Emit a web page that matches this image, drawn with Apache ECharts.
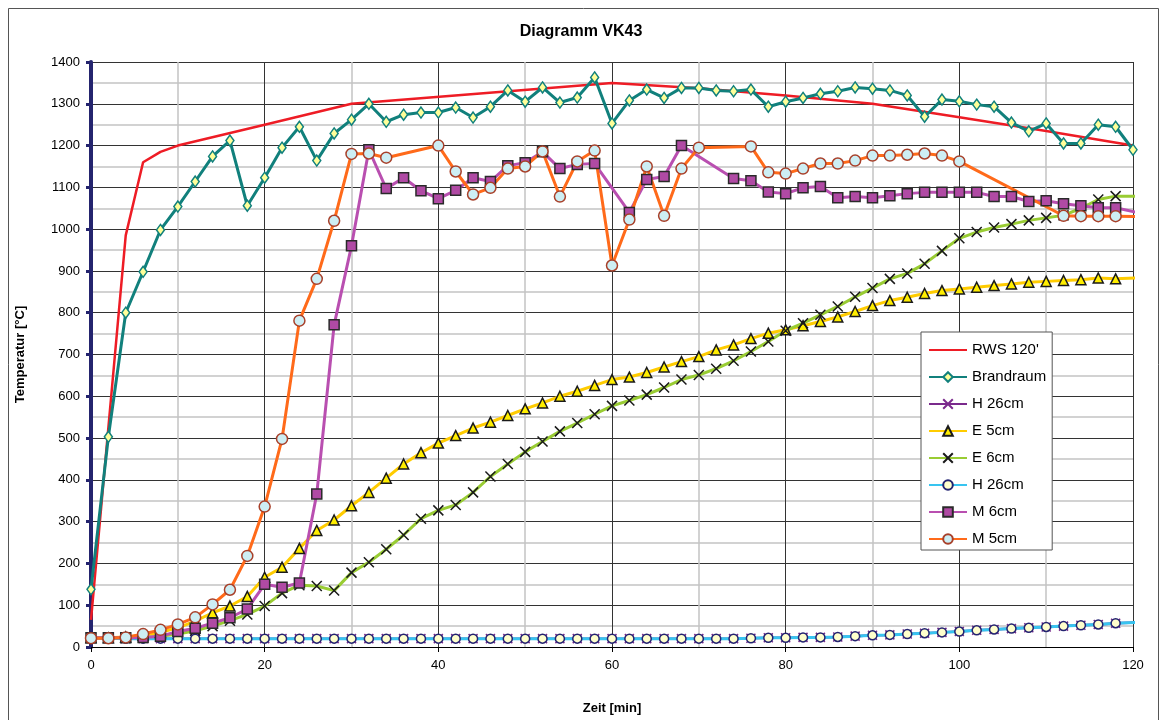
<!DOCTYPE html>
<html>
<head>
<meta charset="utf-8">
<title>Diagramm VK43</title>
<script src="https://cdn.jsdelivr.net/npm/echarts@6/dist/echarts.min.js"></script>
<style>
  html, body { margin: 0; padding: 0; background: #fff; }
  #chart { width: 1162px; height: 720px; }
</style>
</head>
<body>
<div id="chart"></div>
<script>
// Zeit [min] / Temperatur [°C]

var rwsTime = [0, 4, 6, 8, 10, 20, 30, 60, 70, 80, 90, 100, 110, 120];
var rwsTemp = [65, 985, 1160, 1185, 1200, 1250, 1300, 1350, 1337, 1320, 1300, 1268, 1235, 1200];

var brandTime = [0, 2, 4, 6, 8, 10, 12, 14, 16, 18, 20, 22, 24, 26, 28, 30, 32, 34, 36, 38, 40,
	42, 44, 46, 48, 50, 52, 54, 56, 58, 60, 62, 64, 66, 68, 70, 72, 74, 76, 78, 80,
	82, 84, 86, 88, 90, 92, 94, 96, 98, 100, 102, 104, 106, 108, 110, 112, 114, 116, 118, 120];
var brandTemp = [138, 503, 800, 898, 998, 1054, 1114, 1174, 1212, 1056, 1123, 1195, 1245, 1164, 1229, 1262, 1300, 1257, 1274, 1279, 1279,
	1291, 1267, 1293, 1332, 1305, 1339, 1303, 1315, 1363, 1253, 1308, 1334, 1314, 1338, 1338, 1332, 1330, 1334, 1293, 1305,
	1314, 1324, 1330, 1339, 1336, 1332, 1320, 1269, 1310, 1306, 1298, 1293, 1255, 1234, 1253, 1205, 1205, 1250, 1245, 1190];

var hTime = [0, 2, 4, 6, 8, 10, 12, 14, 16, 18, 20, 22, 24, 26, 28, 30, 32, 34, 36, 38, 40,
	42, 44, 46, 48, 50, 52, 54, 56, 58, 60, 62, 64, 66, 68, 70, 72, 74, 76, 78, 80,
	82, 84, 86, 88, 90, 92, 94, 96, 98, 100, 102, 104, 106, 108, 110, 112, 114, 116, 118, 122];
var hTemp = [21, 21, 20, 20, 20, 20, 20, 20, 20, 20, 20, 20, 20, 20, 20, 20, 20, 20, 20, 20, 20,
	20, 20, 20, 20, 20, 20, 20, 20, 20, 20, 20, 20, 20, 20, 20, 20, 20, 21, 22, 22,
	23, 23, 24, 26, 28, 29, 31, 33, 35, 37, 40, 42, 44, 46, 48, 50, 52, 54, 57, 60];

var e5Time = hTime;
var e5Temp = [22, 22, 24, 28, 35, 46, 62, 82, 98, 121, 167, 191, 236, 279, 304, 338, 370, 404, 438, 465, 488,
	506, 524, 538, 554, 570, 584, 600, 612, 626, 640, 646, 657, 670, 683, 695, 711, 723, 738, 751, 759,
	769, 779, 790, 803, 817, 829, 837, 846, 853, 857, 861, 865, 869, 873, 875, 877, 879, 883, 881, 885];

var e6Time = hTime;
var e6Temp = [22, 22, 22, 23, 26, 31, 39, 50, 63, 78, 98, 129, 148, 146, 135, 178, 203, 234, 268, 307, 327,
	340, 370, 408, 438, 467, 492, 516, 536, 557, 577, 590, 604, 621, 640, 651, 666, 685, 707, 731, 757,
	775, 795, 815, 838, 859, 881, 894, 917, 948, 978, 993, 1004, 1012, 1021, 1027, 1033, 1050, 1071, 1079, 1079];

var m6Time = [0, 2, 4, 6, 8, 10, 12, 14, 16, 18, 20, 22, 24, 26, 28, 30, 32, 34, 36, 38, 40,
	42, 44, 46, 48, 50, 52, 54, 56, 58, 62, 64, 66, 68, 74, 76, 78, 80,
	82, 84, 86, 88, 90, 92, 94, 96, 98, 100, 102, 104, 106, 108, 110, 112, 114, 116, 118, 122];
var m6Temp = [22, 22, 22, 23, 26, 37, 45, 57, 70, 91, 150, 143, 153, 366, 771, 960, 1190, 1097, 1123, 1092, 1073,
	1093, 1123, 1114, 1152, 1159, 1185, 1145, 1155, 1157, 1040, 1119, 1126, 1200, 1121, 1116, 1089, 1085,
	1099, 1102, 1075, 1078, 1075, 1080, 1085, 1088, 1088, 1088, 1088, 1078, 1078, 1066, 1068, 1061, 1056, 1051, 1051, 1033];

var m5Time = [0, 2, 4, 6, 8, 10, 12, 14, 16, 18, 20, 22, 24, 26, 28, 30, 32, 34, 40,
	42, 44, 46, 48, 50, 52, 54, 56, 58, 60, 62, 64, 66, 68, 70, 76, 78, 80,
	82, 84, 86, 88, 90, 92, 94, 96, 98, 100, 112, 114, 116, 118, 122];
var m5Temp = [21, 21, 23, 31, 41, 54, 71, 102, 137, 218, 336, 498, 781, 881, 1020, 1180, 1181, 1171, 1200,
	1138, 1083, 1099, 1145, 1150, 1186, 1078, 1162, 1188, 913, 1023, 1150, 1032, 1145, 1195, 1198, 1136, 1133,
	1145, 1157, 1157, 1164, 1176, 1176, 1178, 1181, 1176, 1162, 1032, 1031, 1031, 1031, 1030];

var seriesNames = ['RWS 120\'', 'Brandraum', 'H 26cm', 'E 5cm', 'E 6cm', 'H 26cm ', 'M 6cm', 'M 5cm'];

function pairs(t, v) {
	var out = [];
	for (var i = 0; i < t.length; i++) {
		out.push([t[i], v[i]]);
	}
	return out;
}

var crossPath = 'path://M0,0L10,10M10,0L0,10';
var fontName = '"Liberation Sans", Arial, sans-serif';

var chart = echarts.init(document.getElementById('chart'), null, { renderer: 'canvas' });

// Legende: RWS nur als Linie, ohne Symbol
var legendData = [];
for (var k = 0; k < seriesNames.length; k++) {
	if (k == 0) {
		legendData.push({ name: seriesNames[k], itemStyle: { color: 'rgba(0,0,0,0)', borderWidth: 0 } });
	} else {
		legendData.push({ name: seriesNames[k] });
	}
}

var option = {
	animation: false,
	backgroundColor: '#fff',
	textStyle: { fontFamily: fontName, color: '#000' },
	title: {
		text: 'Diagramm VK43',
		left: 'center',
		top: 19,
		textStyle: { fontFamily: fontName, fontSize: 16, fontWeight: 'bold', color: '#000' }
	},
	graphic: [{
		type: 'rect',
		shape: { x: 8.5, y: 8.5, width: 1150, height: 730 },
		style: { fill: 'none', stroke: '#555', lineWidth: 1 },
		silent: true
	}],
	legend: {
		orient: 'vertical',
		left: 921,
		top: 332,
		padding: [9, 6, 2, 7],
		itemGap: 9,
		itemWidth: 38,
		itemHeight: 12,
		backgroundColor: '#fff',
		borderColor: '#555',
		borderWidth: 1,
		borderRadius: 0,
		data: legendData,
		textStyle: { fontFamily: fontName, fontSize: 15, color: '#000', lineHeight: 18 }
	},
	grid: { left: 91, right: 29, top: 62, bottom: 66, containLabel: false },
	xAxis: {
		type: 'value',
		min: 0,
		max: 120,
		interval: 20,
		name: 'Zeit [min]',
		nameLocation: 'middle',
		nameGap: 55,
		nameTextStyle: { fontFamily: fontName, fontSize: 13, fontWeight: 'bold', color: '#000' },
		axisLine: { show: true, onZero: false, lineStyle: { color: '#000', width: 1 } },
		axisTick: { show: true, length: 5, lineStyle: { color: '#000' } },
		axisLabel: { margin: 12, fontSize: 13, color: '#000', fontFamily: fontName },
		splitLine: { show: true, lineStyle: { color: '#333', width: 1 } },
		minorTick: { show: false, splitNumber: 2 },
		minorSplitLine: { show: true, lineStyle: { color: '#c4c4c4', width: 1.5 } }
	},
	yAxis: {
		type: 'value',
		min: 0,
		max: 1400,
		interval: 100,
		name: 'Temperatur [°C]',
		nameLocation: 'middle',
		nameGap: 64,
		nameTextStyle: { fontFamily: fontName, fontSize: 13, fontWeight: 'bold', color: '#000' },
		axisLine: { show: true, lineStyle: { color: '#24246e', width: 4 } },
		axisTick: { show: true, length: 5, lineStyle: { color: '#24246e', width: 3 } },
		axisLabel: {
			margin: 11, fontSize: 13, color: '#000', fontFamily: fontName,
			formatter: function (v) { return String(v); }
		},
		splitLine: { show: true, lineStyle: { color: '#333', width: 1 } },
		minorTick: { show: false, splitNumber: 2 },
		minorSplitLine: { show: true, lineStyle: { color: '#c4c4c4', width: 1.5 } }
	},
	series: [
		{
			name: seriesNames[0],
			type: 'line',
			data: pairs(rwsTime, rwsTemp),
			showSymbol: false,
			symbol: 'none',
			lineStyle: { color: '#ee1c25', width: 2.5 },
			itemStyle: { color: '#ee1c25' }
		},
		{
			name: seriesNames[1],
			type: 'line',
			data: pairs(brandTime, brandTemp),
			symbol: 'diamond',
			symbolSize: [8, 11],
			lineStyle: { color: '#11807c', width: 3 },
			itemStyle: { color: '#ffff99', borderColor: '#11807c', borderWidth: 1.5 }
		},
		{
			name: seriesNames[2],
			type: 'line',
			data: pairs(hTime, hTemp),
			symbol: crossPath,
			symbolSize: 9,
			lineStyle: { color: '#7a2a8c', width: 2.5 },
			itemStyle: { color: '#7a2a8c', borderColor: '#7a2a8c', borderWidth: 1.5 }
		},
		{
			name: seriesNames[3],
			type: 'line',
			data: pairs(e5Time, e5Temp),
			symbol: 'triangle',
			symbolSize: 10,
			lineStyle: { color: '#ffcc00', width: 3 },
			itemStyle: { color: '#ffee00', borderColor: '#1a1a1a', borderWidth: 1.5 }
		},
		{
			name: seriesNames[4],
			type: 'line',
			data: pairs(e6Time, e6Temp),
			symbol: crossPath,
			symbolSize: 10,
			lineStyle: { color: '#99cc33', width: 3 },
			itemStyle: { color: '#99cc33', borderColor: '#1a1a1a', borderWidth: 1.5 }
		},
		{
			name: seriesNames[5],
			type: 'line',
			data: pairs(hTime, hTemp),
			symbol: 'circle',
			symbolSize: 9,
			lineStyle: { color: '#38c4f0', width: 3 },
			itemStyle: { color: '#ffffcc', borderColor: '#232370', borderWidth: 1.5 }
		},
		{
			name: seriesNames[6],
			type: 'line',
			data: pairs(m6Time, m6Temp),
			symbol: 'rect',
			symbolSize: 10,
			lineStyle: { color: '#b94fb0', width: 3 },
			itemStyle: { color: '#b04aa4', borderColor: '#2a2a2a', borderWidth: 1.5 }
		},
		{
			name: seriesNames[7],
			type: 'line',
			data: pairs(m5Time, m5Temp),
			symbol: 'circle',
			symbolSize: 11,
			lineStyle: { color: '#ff6a1a', width: 3 },
			itemStyle: { color: '#cdeef4', borderColor: '#a8402a', borderWidth: 1.5 }
		}
	]
};

chart.setOption(option);
</script>
</body>
</html>
